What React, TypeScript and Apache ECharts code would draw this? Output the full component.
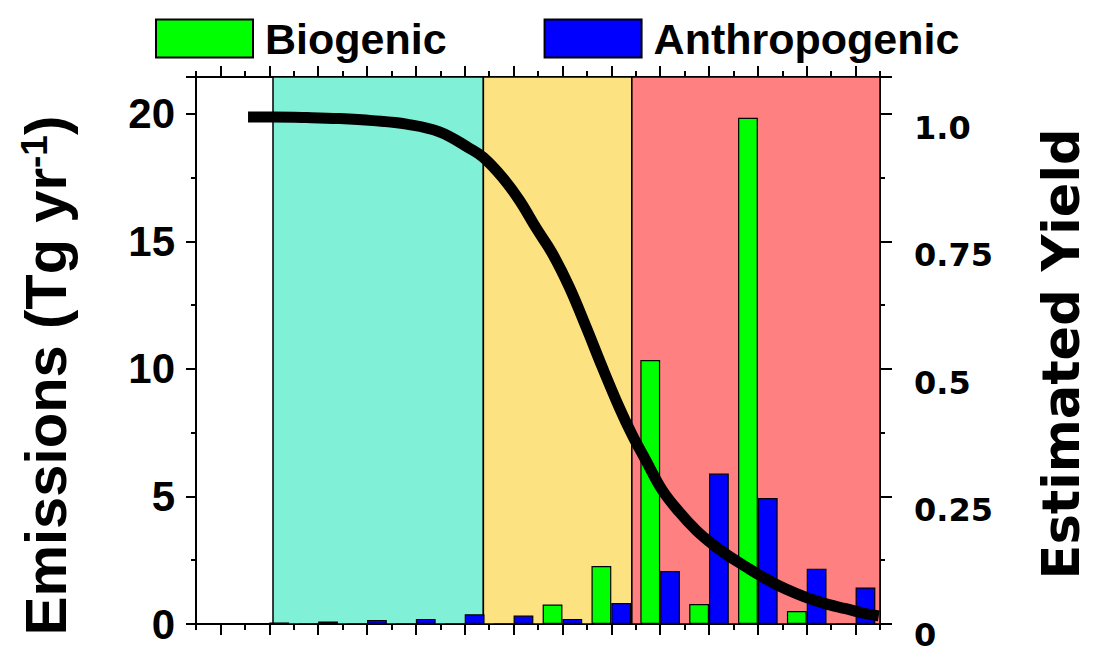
import React, { useEffect, useRef } from 'react';
import * as echarts from 'echarts';

// Emission bins (one group of two bars per bin)
const bins = ['1', '2', '3', '4', '5', '6', '7', '8', '9', '10', '11', '12', '13', '14'];

// Emissions per bin, Tg yr-1
const biogenic = [0, 0, 0, 0, 0, 0, 0, 0.76, 2.27, 10.35, 0.78, 19.85, 0.51, 0];
const anthropogenic = [0.04, 0.06, 0.1, 0.16, 0.2, 0.38, 0.33, 0.2, 0.82, 2.08, 5.9, 4.94, 2.17, 1.43];

// Estimated yield curve, sampled along the continuous bin coordinate (0..14)
const yieldX = [
  1.065, 1.576, 2.27, 2.943, 3.617, 4.31, 4.982, 5.595, 5.881, 6.269, 6.617, 6.964, 7.291,
  7.639, 7.986, 8.313, 8.661, 8.926, 9.213, 9.54, 9.888, 10.235, 10.562, 10.909, 11.257,
  11.584, 11.931, 12.279, 12.606, 12.953, 13.3, 13.627, 13.975,
];
const yieldY = [
  0.994, 0.994, 0.993, 0.991, 0.987, 0.98, 0.965, 0.933, 0.915, 0.876, 0.831, 0.776, 0.727,
  0.661, 0.582, 0.504, 0.425, 0.371, 0.32, 0.263, 0.22, 0.184, 0.157, 0.133, 0.112,
  0.093, 0.075, 0.06, 0.048, 0.038, 0.03, 0.022, 0.016,
];

// Shaded regimes along the bin coordinate
const regionEdges = [1.576, 5.882, 8.921, 14];
const regionColors = ['#80F0D6', '#FDE282', '#FF8080'];

const yieldTickLabels = ['0', '0.25', '0.5', '0.75', '1.0'];

const EMISSION_MAX = 21.45;
const YIELD_MAX = EMISSION_MAX / 20;
const YIELD_STEP = 0.25;

const ARIAL = '"Liberation Sans", Arial, sans-serif';
const VERDANA = '"DejaVu Sans", Verdana, sans-serif';

const lineBlack = { color: '#000', width: 2 };

function binAxis(position: 'top' | 'bottom') {
  return {
    type: 'value',
    min: 0,
    max: 14,
    interval: 1,
    position,
    axisLine: { show: true, onZero: false, lineStyle: lineBlack },
    axisTick: { show: true, inside: false, length: 6, lineStyle: lineBlack },
    minorTick: { show: true, splitNumber: 2, length: 11, lineStyle: lineBlack },
    axisLabel: { show: false },
    splitLine: { show: false },
    minorSplitLine: { show: false },
  };
}

// Yield labels sit just below their ticks; the bottom one is nudged up to stay on the page
function yieldLabel(v: number) {
  const k = v / YIELD_STEP;
  const i = Math.round(k);
  if (Math.abs(k - i) > 1e-6) return '';
  const text = yieldTickLabels[i];
  if (text === undefined) return '';
  return i === 0 ? `{low|${text}}` : `{std|${text}}`;
}

const yieldLabelFont = {
  fontFamily: VERDANA,
  fontSize: 32,
  fontWeight: 'bold',
  color: '#000',
  lineHeight: 20,
};

export default function App() {
  const ref = useRef<HTMLDivElement>(null);

  useEffect(() => {
    if (!ref.current) return;
    const chart = echarts.init(ref.current, undefined, { renderer: 'svg' });

    const curve = yieldX.map((x, i) => [x, yieldY[i]]);
    const areas = regionColors.map((color, i) => [
      {
        xAxis: regionEdges[i],
        itemStyle: { color, borderColor: '#000', borderWidth: 1.5 },
      },
      { xAxis: regionEdges[i + 1] },
    ]);

    chart.setOption({
      animation: false,
      backgroundColor: '#fff',
      legend: {
        data: ['Biogenic', 'Anthropogenic'],
        left: 150,
        top: 12,
        icon: 'rect',
        itemWidth: 97,
        itemHeight: 38,
        itemGap: 97,
        selectedMode: false,
        textStyle: {
          fontFamily: ARIAL,
          fontSize: 43,
          fontWeight: 'bold',
          color: '#000',
          padding: [0, 0, 0, 7],
        },
      },
      grid: { left: 196, right: 214, top: 77, bottom: 31, containLabel: false },
      xAxis: [
        { type: 'category', data: bins, show: false },
        binAxis('bottom'),
        binAxis('top'),
      ],
      yAxis: [
        {
          type: 'value',
          position: 'left',
          min: 0,
          max: EMISSION_MAX,
          interval: 5,
          axisLine: { show: true, onZero: false, lineStyle: lineBlack },
          axisTick: { show: true, inside: false, length: 10, lineStyle: lineBlack },
          minorTick: { show: true, splitNumber: 2, length: 5, lineStyle: lineBlack },
          splitLine: { show: false },
          axisLabel: {
            fontFamily: ARIAL,
            fontSize: 42,
            fontWeight: 'bold',
            color: '#000',
            margin: 21,
          },
          name: '{a|Emissions (Tg yr}{b|-1}{a|)}',
          nameLocation: 'middle',
          nameRotate: 90,
          nameGap: 122,
          nameTextStyle: {
            padding: [0, 50, 0, 0],
            rich: {
              a: { fontFamily: ARIAL, fontSize: 58, fontWeight: 'bold', color: '#000' },
              b: {
                fontFamily: ARIAL,
                fontSize: 37,
                fontWeight: 'bold',
                color: '#000',
                verticalAlign: 'top',
              },
            },
          },
        },
        {
          type: 'value',
          position: 'right',
          min: 0,
          max: YIELD_MAX,
          interval: YIELD_STEP,
          axisLine: { show: true, onZero: false, lineStyle: lineBlack },
          axisTick: { show: true, inside: false, length: 12, lineStyle: lineBlack },
          minorTick: { show: true, splitNumber: 2, length: 5, lineStyle: lineBlack },
          splitLine: { show: false },
          axisLabel: {
            ...yieldLabelFont,
            margin: 34,
            verticalAlign: 'top',
            showMaxLabel: false,
            formatter: yieldLabel,
            rich: {
              std: { ...yieldLabelFont, padding: [8, 0, 0, 0] },
              low: { ...yieldLabelFont, padding: [1, 0, 0, 0] },
            },
          },
          name: 'Estimated Yield',
          nameLocation: 'middle',
          nameRotate: 90,
          nameGap: 156,
          nameTextStyle: {
            fontFamily: VERDANA,
            fontSize: 51,
            fontWeight: 'bold',
            color: '#000',
            padding: [0, 7, 0, 0],
          },
        },
      ],
      series: [
        {
          name: 'Biogenic',
          type: 'bar',
          xAxisIndex: 0,
          yAxisIndex: 0,
          data: biogenic,
          barGap: '0%',
          barCategoryGap: '19%',
          itemStyle: { color: '#00FF00', borderColor: '#000', borderWidth: 1.2 },
          z: 3,
        },
        {
          name: 'Anthropogenic',
          type: 'bar',
          xAxisIndex: 0,
          yAxisIndex: 0,
          data: anthropogenic,
          barGap: '0%',
          barCategoryGap: '19%',
          itemStyle: { color: '#0000FF', borderColor: '#000', borderWidth: 1.2 },
          z: 3,
        },
        {
          name: 'Estimated Yield',
          type: 'line',
          xAxisIndex: 1,
          yAxisIndex: 1,
          data: curve,
          symbol: 'none',
          smooth: 0.4,
          lineStyle: { color: '#000', width: 11, cap: 'butt', join: 'round' },
          z: 4,
          markArea: { silent: true, z: 1, data: areas },
        },
      ],
    });

    return () => chart.dispose();
  }, []);

  return (
    <div
      ref={ref}
      style={{ position: 'fixed', left: 0, top: 0, width: 1095, height: 655, background: '#fff' }}
    />
  );
}
